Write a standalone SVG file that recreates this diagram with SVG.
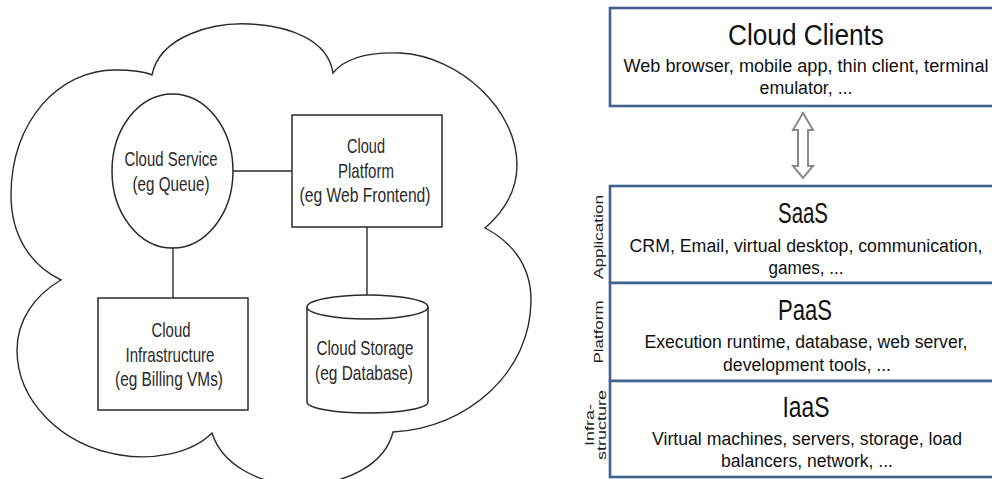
<svg xmlns="http://www.w3.org/2000/svg" width="992" height="479" viewBox="0 0 992 479">
<style>
.ln{fill:none;stroke:#2b2b2b;stroke-width:1.4}
.shp{fill:#fff;stroke:#2b2b2b;stroke-width:1.5}
.lt{font-family:"Liberation Sans Narrow","Liberation Sans",Arial,sans-serif;font-size:21px;fill:#2a2a2a;text-anchor:middle}
.box{fill:#fff;stroke:#41638f;stroke-width:2.6}
.ti{font-family:"Liberation Sans",Arial,sans-serif;font-size:29px;fill:#111;text-anchor:middle}
.sub{font-family:"Liberation Sans",Arial,sans-serif;font-size:18px;fill:#111;text-anchor:middle}
.side{font-family:"Liberation Sans",Arial,sans-serif;font-size:13px;fill:#222;text-anchor:middle}
</style>
<rect width="992" height="479" fill="#fff"/>
<g id="cloud">
<path class="ln" d="M152,75 C160,35 215,22 250,24 C290,26 328,40 333,73 C345,58 370,52 400,53 C460,56 517,110 517,165 C517,195 500,215 485,228 C508,240 531,262 531,300 C531,372 468,428 393,432 C385,465 345,485 300,485 C260,485 222,465 212,433 C190,455 150,460 120,455 C60,445 17,400 17,350 C17,320 35,295 61,280 C30,265 11,235 11,195 C11,120 60,70 115,70 C130,70 145,72 152,75 Z"/>
</g>
<g id="connectors">
<line class="ln" x1="233" y1="171" x2="292" y2="171"/>
<line class="ln" x1="367" y1="227" x2="367" y2="295"/>
<line class="ln" x1="173" y1="248" x2="173" y2="298"/>
<path d="M803,113 L813,130 L808,130 L808,166 L813,166 L803,178 L793,166 L798,166 L798,130 L793,130 Z" fill="#fff" stroke="#8a8a8a" stroke-width="2"/>
</g>
<g id="cloud-service">
<ellipse class="shp" cx="172.5" cy="171" rx="60.5" ry="77"/>
<text class="lt" x="171" y="166" textLength="93" lengthAdjust="spacingAndGlyphs">Cloud Service</text>
<text class="lt" x="171" y="191" textLength="77" lengthAdjust="spacingAndGlyphs">(eg Queue)</text>
</g>
<g id="cloud-platform">
<rect class="shp" x="292" y="115" width="150" height="112"/>
<text class="lt" x="366" y="153" textLength="38" lengthAdjust="spacingAndGlyphs">Cloud</text>
<text class="lt" x="366" y="178" textLength="56" lengthAdjust="spacingAndGlyphs">Platform</text>
<text class="lt" x="365" y="202" textLength="131" lengthAdjust="spacingAndGlyphs">(eg Web Frontend)</text>
</g>
<g id="cloud-infrastructure">
<rect class="shp" x="98" y="298" width="150" height="112"/>
<text class="lt" x="171" y="337" textLength="39" lengthAdjust="spacingAndGlyphs">Cloud</text>
<text class="lt" x="170" y="362" textLength="89" lengthAdjust="spacingAndGlyphs">Infrastructure</text>
<text class="lt" x="169" y="386" textLength="108" lengthAdjust="spacingAndGlyphs">(eg Billing VMs)</text>
</g>
<g id="cloud-storage">
<path class="shp" d="M307,307 L307,402 A60.5,11 0 0 0 428,402 L428,307"/>
<ellipse class="shp" cx="367.5" cy="307" rx="60.5" ry="12"/>
<text class="lt" x="365" y="355" textLength="97" lengthAdjust="spacingAndGlyphs">Cloud Storage</text>
<text class="lt" x="364" y="380" textLength="98" lengthAdjust="spacingAndGlyphs">(eg Database)</text>
</g>
<g id="cloud-clients">
<rect class="box" x="610" y="8" width="400" height="98"/>
<text class="ti" x="806" y="45" textLength="156" lengthAdjust="spacingAndGlyphs">Cloud Clients</text>
<text class="sub" x="806" y="72" textLength="365" lengthAdjust="spacingAndGlyphs">Web browser, mobile app, thin client, terminal</text>
<text class="sub" x="806" y="94" textLength="93" lengthAdjust="spacingAndGlyphs">emulator, ...</text>
</g>
<g id="saas">
<rect class="box" x="610" y="186" width="400" height="97"/>
<text class="ti" x="803" y="223" textLength="50" lengthAdjust="spacingAndGlyphs">SaaS</text>
<text class="sub" x="806" y="252" textLength="353" lengthAdjust="spacingAndGlyphs">CRM, Email, virtual desktop, communication,</text>
<text class="sub" x="806" y="274" textLength="75" lengthAdjust="spacingAndGlyphs">games, ...</text>
<text class="side" transform="translate(603,237) rotate(-90)" textLength="84" lengthAdjust="spacingAndGlyphs">Application</text>
</g>
<g id="paas">
<rect class="box" x="610" y="283" width="400" height="98"/>
<text class="ti" x="805" y="320" textLength="54" lengthAdjust="spacingAndGlyphs">PaaS</text>
<text class="sub" x="806" y="348" textLength="323" lengthAdjust="spacingAndGlyphs">Execution runtime, database, web server,</text>
<text class="sub" x="807" y="371" textLength="168" lengthAdjust="spacingAndGlyphs">development tools, ...</text>
<text class="side" transform="translate(603,332) rotate(-90)" textLength="63" lengthAdjust="spacingAndGlyphs">Platform</text>
</g>
<g id="iaas">
<rect class="box" x="610" y="381" width="400" height="96"/>
<text class="ti" x="806" y="417" textLength="47" lengthAdjust="spacingAndGlyphs">IaaS</text>
<text class="sub" x="807" y="445" textLength="310" lengthAdjust="spacingAndGlyphs">Virtual machines, servers, storage, load</text>
<text class="sub" x="807" y="467" textLength="172" lengthAdjust="spacingAndGlyphs">balancers, network, ...</text>
<text class="side" transform="translate(594,425) rotate(-90)" textLength="42" lengthAdjust="spacingAndGlyphs">Infra-</text>
<text class="side" transform="translate(606,425) rotate(-90)" textLength="70" lengthAdjust="spacingAndGlyphs">structure</text>
</g>
</svg>
